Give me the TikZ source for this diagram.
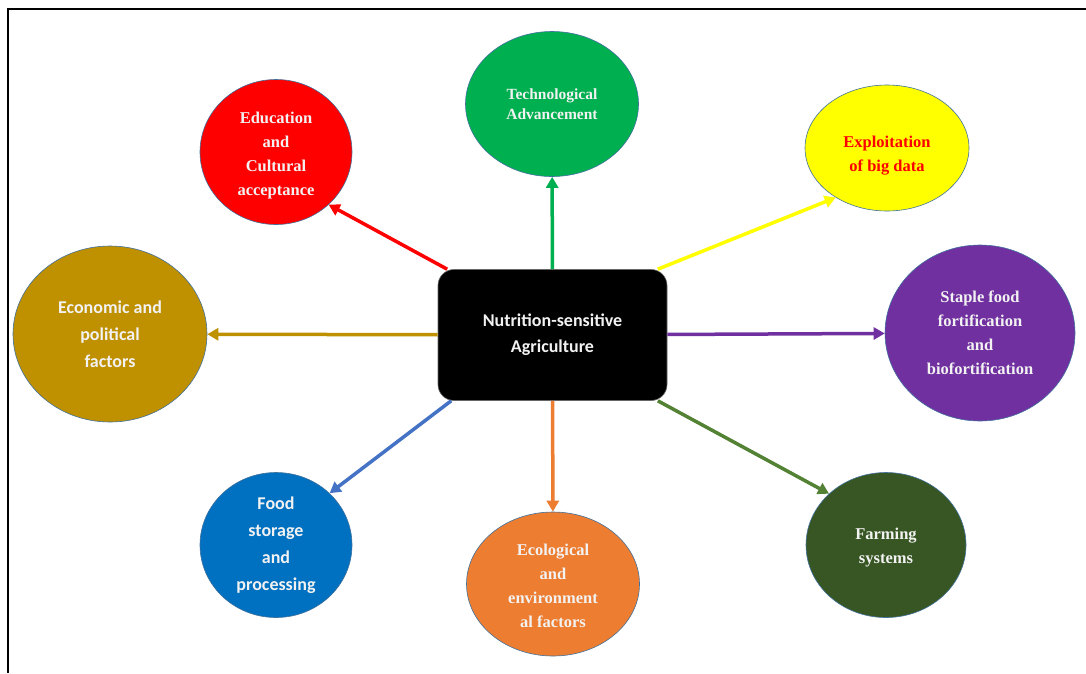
\documentclass[tikz,border=0pt]{standalone}
\usepackage{fontspec}
\setmainfont{Liberation Serif}
\newfontfamily\calibri{Carlito}
\usetikzlibrary{shapes.geometric,arrows.meta}

\definecolor{redfill}{HTML}{FF0000}
\definecolor{greenfill}{HTML}{00B050}
\definecolor{yellowfill}{HTML}{FFFF00}
\definecolor{purplefill}{HTML}{7030A0}
\definecolor{olivefill}{HTML}{BF9000}
\definecolor{bluefill}{HTML}{0070C0}
\definecolor{bluearrow}{HTML}{4472C4}
\definecolor{orangefill}{HTML}{ED7D31}
\definecolor{farmfill}{HTML}{375623}
\definecolor{farmarrow}{HTML}{548235}
\definecolor{rimcol}{HTML}{41719C}
\definecolor{txtcol}{HTML}{F2F2F2}

\begin{document}
\begin{tikzpicture}[
  x=1pt, y=-1pt,
  blob/.style={ellipse, draw=rimcol, line width=0.6pt, inner sep=0pt},
  serifbf/.style={align=center, text=txtcol, font=\fontsize{16.5}{24}\selectfont\bfseries},
  sansbf/.style={align=center, text=txtcol, font=\fontsize{18}{27}\selectfont\calibri\bfseries},
  hubbox/.style={rounded corners=16pt, fill=black, draw=black!60,
    line width=0.6pt, minimum width=229pt, minimum height=131pt,
    align=center, text=txtcol, font=\fontsize{18}{26}\selectfont\calibri\bfseries},
  link/.style={line width=3.5pt, -{Triangle[length=11pt,width=12pt]}},
]
  \useasboundingbox (0,0) rectangle (1086,673);
  % frame
  \draw[line width=1.6pt] (1086,9) -- (8,9) -- (8,673);

  \node[hubbox] (hub) at (552.5,335) {Nutrition-sensitive\\Agriculture};

  \node[blob, fill=redfill, minimum width=152pt, minimum height=145pt,
    label={[serifbf, yshift=-4pt]center:{Education\\and\\Cultural\\acceptance}}]
    (edu) at (276,152) {};
  \node[blob, fill=greenfill, minimum width=173pt, minimum height=145pt,
    label={[serifbf, font=\fontsize{15.5}{20}\selectfont\bfseries]center:{Technological\\Advancement}}]
    (tech) at (552,104) {};
  \node[blob, fill=yellowfill, minimum width=164pt, minimum height=126pt,
    label={[serifbf, text=redfill, yshift=-7.5pt]center:{Exploitation\\of big data}}]
    (bigdata) at (887,148) {};
  \node[blob, fill=purplefill, minimum width=190pt, minimum height=176pt,
    label={[serifbf]center:{Staple food\\fortification\\and\\biofortification}}]
    (staple) at (980,333) {};
  \node[blob, fill=olivefill, minimum width=194pt, minimum height=176pt,
    label={[sansbf]center:{Economic and\\political\\factors}}]
    (econ) at (110,334) {};
  \node[blob, fill=bluefill, minimum width=152pt, minimum height=145pt,
    label={[sansbf]center:{Food\\storage\\and\\processing}}]
    (store) at (276,545) {};
  \node[blob, fill=orangefill, minimum width=173pt, minimum height=144pt,
    label={[serifbf, yshift=-1.5pt]center:{Ecological\\and\\environment\\al factors}}]
    (eco) at (553,584) {};
  \node[blob, fill=farmfill, minimum width=160pt, minimum height=145pt,
    label={[serifbf, yshift=-3pt]center:{Farming\\systems}}]
    (farm) at (886,545) {};

  \draw[link, redfill]    (hub.148) -- (edu.315);
  \draw[link, greenfill]  (hub) -- (tech);
  \draw[link, yellowfill] (hub.32) -- (bigdata.224);
  \draw[link, purplefill] (hub) -- (staple);
  \draw[link, olivefill]  (hub) -- (econ);
  \draw[link, bluearrow]  (hub.213) -- (store.44);
  \draw[link, orangefill] (hub) -- (eco);
  \draw[link, farmarrow]  (hub.328) -- (farm.138);
\end{tikzpicture}
\end{document}
